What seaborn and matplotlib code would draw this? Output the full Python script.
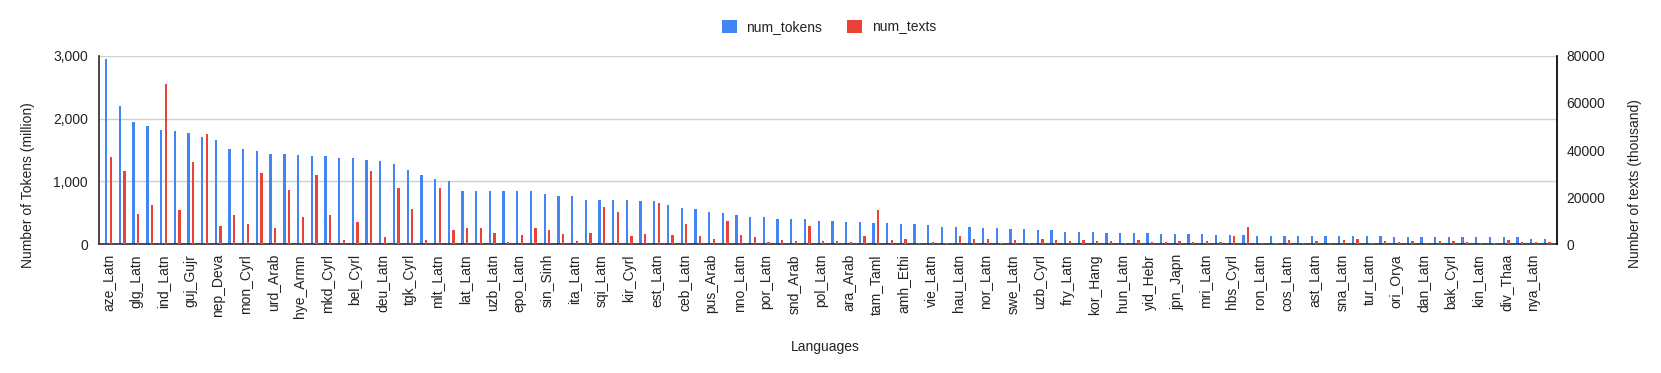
import matplotlib
matplotlib.use("Agg")
import matplotlib.pyplot as plt
import seaborn as sns
import pandas as pd
from matplotlib.patches import Patch

# languages sorted by token count; only every other one is labelled on the chart
languages = [
    "aze_Latn", "kat_Geor", "glg_Latn", "kaz_Cyrl", "ind_Latn", "ben_Beng",
    "guj_Gujr", "tha_Thai", "nep_Deva", "mar_Deva", "mon_Cyrl", "khm_Khmr",
    "urd_Arab", "pan_Guru", "hye_Armn", "hin_Deva", "mkd_Cyrl", "fas_Arab",
    "bel_Cyrl", "tel_Telu", "deu_Latn", "kan_Knda", "tgk_Cyrl", "mal_Mlym",
    "mlt_Latn", "lav_Latn", "lat_Latn", "lit_Latn", "uzb_Latn", "slk_Latn",
    "epo_Latn", "slv_Latn", "sin_Sinh", "isl_Latn", "ita_Latn", "eus_Latn",
    "sqi_Latn", "cat_Latn", "kir_Cyrl", "afr_Latn", "est_Latn", "swa_Latn",
    "ceb_Latn", "som_Latn", "pus_Arab", "fil_Latn", "nno_Latn", "msa_Latn",
    "por_Latn", "ell_Grek", "snd_Arab", "bul_Cyrl", "pol_Latn", "ukr_Cyrl",
    "ara_Arab", "tat_Cyrl", "tam_Taml", "lao_Laoo", "amh_Ethi", "mya_Mymr",
    "vie_Latn", "hat_Latn", "hau_Latn", "zul_Latn", "nor_Latn", "xho_Latn",
    "swe_Latn", "gle_Latn", "uzb_Cyrl", "cym_Latn", "fry_Latn", "yor_Latn",
    "kor_Hang", "ibo_Latn", "hun_Latn", "kur_Latn", "yid_Hebr", "ckb_Arab",
    "jpn_Japn", "tuk_Latn", "mri_Latn", "uig_Arab", "hbs_Cyrl", "srp_Cyrl",
    "ron_Latn", "hrv_Latn", "cos_Latn", "bos_Latn", "ast_Latn", "ltz_Latn",
    "sna_Latn", "gla_Latn", "tur_Latn", "mlg_Latn", "ori_Orya", "smo_Latn",
    "dan_Latn", "haw_Latn", "bak_Cyrl", "sot_Latn", "kin_Latn", "lim_Latn",
    "div_Thaa", "oci_Latn", "nya_Latn", "bre_Latn",
]

# million tokens (left axis)
num_tokens = [
    2950, 2200, 1945, 1885, 1815, 1795, 1775, 1700, 1660, 1515,
    1515, 1490, 1440, 1440, 1420, 1400, 1400, 1380, 1365, 1345,
    1320, 1285, 1175, 1100, 1045, 1005, 855, 840, 840, 840,
    840, 840, 800, 765, 765, 705, 705, 705, 705, 685,
    685, 630, 580, 560, 520, 505, 465, 430, 430, 410,
    410, 410, 370, 370, 355, 355, 335, 335, 320, 320,
    300, 280, 280, 280, 260, 260, 240, 240, 225, 225,
    200, 200, 200, 185, 185, 185, 185, 165, 165, 165,
    165, 150, 150, 150, 130, 130, 130, 130, 130, 130,
    130, 130, 125, 125, 110, 110, 110, 110, 110, 110,
    110, 110, 110, 110, 90, 90,
]

# thousand texts (right axis)
num_texts = [
    37200, 30900, 13000, 16600, 67800, 14400, 34800, 46700, 7900, 12500,
    8500, 30400, 6900, 22900, 11500, 29500, 12500, 2000, 9500, 30900,
    3000, 23900, 14900, 2000, 23900, 6000, 6900, 6900, 5000, 1000,
    4000, 6900, 6000, 4500, 1600, 5000, 15900, 13900, 3400, 4400,
    17400, 4000, 8500, 3400, 2400, 9900, 4000, 3000, 1000, 2000,
    1600, 7900, 1600, 1600, 1000, 3400, 14400, 2000, 2400, 400,
    1000, 400, 3400, 2400, 2400, 400, 2000, 400, 2400, 2000,
    1400, 2000, 1400, 1400, 400, 2000, 1000, 1000, 1400, 1000,
    1400, 1000, 3400, 7500, 400, 400, 2000, 400, 1400, 400,
    2000, 2400, 400, 1400, 1000, 1400, 400, 1400, 1400, 1000,
    400, 400, 2000, 1000, 1000, 1000,
]

series = ["num_tokens", "num_texts"]
colors = ["#4285F4", "#EA4335"]
left_ticks = [0, 1000, 2000, 3000]
right_ticks = [0, 20000, 40000, 60000, 80000]

sns.set_theme(style="white")
plt.rcParams["font.family"] = ["Liberation Sans", "DejaVu Sans"]
text_color = "#222222"
fs = 10

df_tok = pd.DataFrame({"lang": languages, "value": num_tokens, "series": series[0]})
df_txt = pd.DataFrame({"lang": languages, "value": num_texts, "series": series[1]})
palette = dict(zip(series, colors))

W, H = 1661, 373
fig = plt.figure(figsize=(W / 100, H / 100), dpi=100)
ax = fig.add_axes([99 / W, 1 - 244.3 / H, (1556.7 - 99) / W, (244.3 - 55.7) / H])
ax2 = ax.twinx()

common = dict(x="lang", y="value", hue="series", hue_order=series, order=languages,
              palette=palette, width=0.68, gap=0.5, dodge=True, saturation=1,
              errorbar=None, legend=False, linewidth=0)
sns.barplot(data=df_tok, ax=ax, **common)
sns.barplot(data=df_txt, ax=ax2, **common)

ax.set_xlim(-0.7, len(languages) - 0.3)
ax.set_ylim(0, 3000)
ax2.set_ylim(0, 80000)

ax.set_yticks(left_ticks)
ax.set_yticklabels([f"{v:,}" for v in left_ticks])
ax2.set_yticks(right_ticks)
ax2.set_yticklabels([str(v) for v in right_ticks])

ax.set_xticks(range(len(languages)))
ax.set_xticklabels([l if i % 2 == 0 else "" for i, l in enumerate(languages)], rotation=90)

ax.yaxis.grid(True, color="#d0d0d0", linewidth=1)
ax.xaxis.grid(False)
ax2.grid(False)
ax.set_axisbelow(True)

ax.tick_params(axis="both", length=0, labelsize=fs, labelcolor=text_color)
ax.tick_params(axis="y", pad=8)
ax.tick_params(axis="x", pad=7)
ax2.tick_params(axis="y", length=0, labelsize=fs, labelcolor=text_color, pad=7)

ax.set_xlabel("")
ax.set_ylabel("")
ax2.set_ylabel("")

for s in ["top", "right"]:
    ax.spines[s].set_visible(False)
ax.spines["left"].set_color("#333333")
ax.spines["bottom"].set_color("#333333")
for s in ["top", "left", "bottom"]:
    ax2.spines[s].set_visible(False)
ax2.spines["right"].set_color("#000000")

fig.text(28 / W, 1 - 185 / H, "Number of Tokens (million)", rotation=90,
         ha="center", va="center", fontsize=fs, color=text_color)
fig.text(1635 / W, 1 - 184 / H, "Number of texts (thousand)", rotation=90,
         ha="center", va="center", fontsize=fs, color=text_color)
fig.text(825 / W, 1 - 347 / H, "Languages", ha="center", va="center",
         fontsize=fs, color=text_color)

handles = [Patch(facecolor=c, edgecolor="none", label=s) for s, c in zip(series, colors)]
fig.legend(handles=handles, loc="center", bbox_to_anchor=(829 / W, 1 - 27 / H),
           ncol=2, frameon=False, fontsize=fs, handlelength=1.05, handleheight=1.05,
           handletextpad=0.7, columnspacing=1.8, labelcolor=text_color)

fig.savefig("out.png", dpi=100)
